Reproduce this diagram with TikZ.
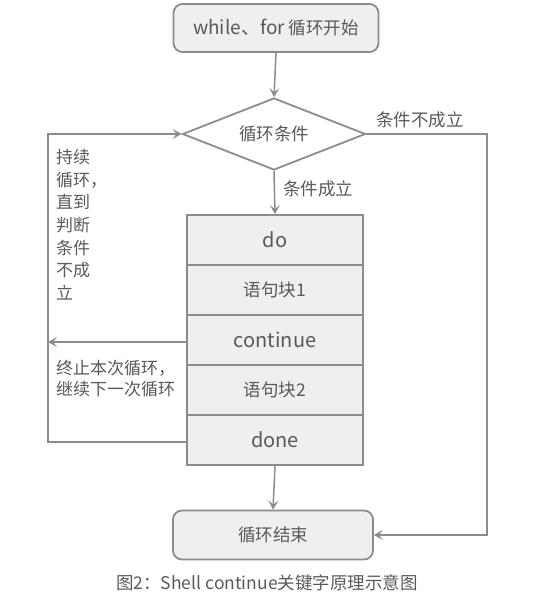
\documentclass[tikz,border=0pt]{standalone}
\usepackage{fontspec}
\setmainfont{Noto Sans CJK SC}
\usetikzlibrary{shapes.geometric,arrows.meta}
\definecolor{linec}{HTML}{8C8C8C}
\definecolor{boxc}{HTML}{EFEFEF}
\definecolor{txtc}{HTML}{595959}
\begin{document}
\begin{tikzpicture}[x=1pt,y=-1pt,
  every node/.style={text=txtc,font=\fontsize{17.5}{21}\selectfont},
  termbox/.style={draw=linec,line width=1.8pt,fill=boxc,rounded corners=9pt,inner sep=0},
  rowbox/.style={draw=linec,line width=1.8pt,fill=boxc,minimum width=176pt,minimum height=50pt,inner sep=0},
  latin/.style={font=\fontsize{20}{24}\selectfont},
  condbox/.style={draw=linec,line width=1.8pt,fill=white,shape=diamond,aspect=2.5,minimum width=183pt,minimum height=72pt,inner sep=0},
  conn/.style={draw=linec,line width=1.5pt},
  arr/.style={conn,-{Stealth[length=9pt,width=10pt,inset=4pt]}},
  lbl/.style={text=txtc,inner sep=0}
]
\useasboundingbox (0,0) rectangle (538,603);
\node[termbox,minimum width=205pt,minimum height=48pt] (start) at (276,28) {{\fontsize{19}{21}\selectfont while、for} 循环开始};
\node[condbox] (cond) at (274,134) {循环条件};
\node[rowbox,latin] (do) at (275,240) {do};
\node[rowbox] (b1) at (275,290) {语句块1};
\node[rowbox,latin] (cont) at (275,340) {continue};
\node[rowbox] (b2) at (275,390) {语句块2};
\node[rowbox,latin] (done) at (275,440) {done};
\node[termbox,minimum width=200pt,minimum height=49pt] (end) at (273,535) {循环结束};

\draw[arr] (start.south) -- (cond.north);
\draw[arr] (cond.south) -- (do.north);
\node[lbl,anchor=west] (lyes) at (283,189) {条件成立};
\draw[arr] (cond.east) -- (487,134) |- (end.east);
\node[lbl] (lno) at (420,120) {条件不成立};
\draw[arr] (done.south) -- (end.north);
\coordinate (cl) at (48,342);
\draw[arr] (cont.west |- cl) -- (cl);
\draw[arr] (done.west) ++(0,2) -- (48,442) |- (cond.west);
\node[lbl,anchor=north west,align=left,font=\fontsize{17}{22.7}\selectfont] (lcont) at (56,149) {持续\\循环，\\直到\\判断\\条件\\不成\\立};
\node[lbl,anchor=north west,align=left,font=\fontsize{17}{21}\selectfont] (lstop) at (56,360) {终止本次循环，\\继续下一次循环};
\node[lbl,anchor=west,font=\fontsize{17.5}{20}\selectfont] (cap) at (116,583) {图2：Shell continue关键字原理示意图};
\end{tikzpicture}
\end{document}
